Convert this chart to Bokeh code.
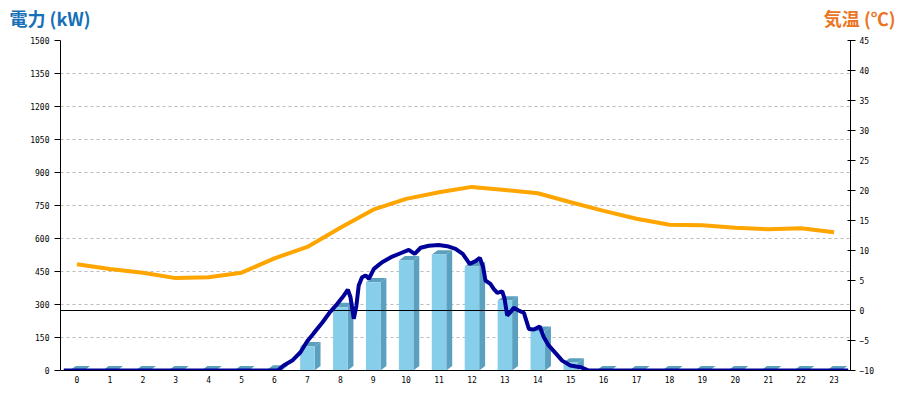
from bokeh.plotting import figure
from bokeh.layouts import column
from bokeh.models import Range1d, LinearAxis, FixedTicker, Label
from bokeh.embed import file_html
from bokeh.resources import INLINE

# ---- data ----
hours = list(range(24))
hour_labels = [str(h) for h in hours]
bar_kw = [0, 0, 0, 0, 0, 0, 4, 109, 288, 401, 500, 527, 473, 318, 180, 36,
          0, 0, 0, 0, 0, 0, 0, 0]
temp_c = [7.7, 6.9, 6.3, 5.4, 5.55, 6.3, 8.7, 10.6, 13.8, 16.8, 18.6, 19.7,
          20.6, 20.1, 19.55, 18.05, 16.6, 15.3, 14.3, 14.2, 13.8, 13.55, 13.7, 13.05]
line_t = [-0.4, 6.10, 6.28, 6.54, 6.79, 6.99, 7.20, 7.45, 7.70, 7.91, 8.11, 8.23,
          8.31, 8.41, 8.49, 8.56, 8.66, 8.77, 8.87, 9.02, 9.17, 9.27, 9.58, 9.83,
          10.08, 10.26, 10.44, 10.69, 10.99, 11.25, 11.50, 11.72, 11.93, 12.11,
          12.24, 12.34, 12.41, 12.56, 12.66, 12.77, 12.92, 12.99, 13.07, 13.17,
          13.27, 13.42, 13.58, 13.73, 13.88, 14.06, 14.18, 14.33, 14.54, 14.74,
          14.99, 15.30, 15.55, 23.43]
line_kw = [0, 0, 23, 45, 83, 132, 171, 217, 268, 303, 341, 368,
           333, 235, 295, 386, 424, 432, 417, 462, 480, 492, 518, 533,
           548, 530, 558, 567, 570, 565, 553, 530, 485, 497,
           512, 470, 409, 394, 371, 353, 360, 326, 250, 265,
           285, 273, 261, 189, 186, 200, 152, 114, 79, 45,
           23, 15, 0, 0]
kw_ticks = [0, 150, 300, 450, 600, 750, 900, 1050, 1200, 1350, 1500]
temp_ticks = [-10, -5, 0, 5, 10, 15, 20, 25, 30, 35, 40, 45]
title_left = "電力 (kW)"
title_right = "気温 (℃)"

# ---- style ----
FRONT = "#87CEEB"
SIDE = "#5BA0BF"
NAVY = "#000099"
ORANGE = "#FFA500"
BLUE_T = "#1570B8"
ORANGE_T = "#EC7524"
half_w = 0.22
depth_x = 0.18
depth_y = 20
W = 898
HEAD_H = 34

# ---- header with the two titles ----
head = figure(width=W, height=HEAD_H, x_range=Range1d(0, W), y_range=Range1d(HEAD_H, 0),
              x_axis_location=None, y_axis_location=None,
              min_border=0, min_border_left=0, min_border_right=0,
              min_border_top=0, min_border_bottom=0,
              output_backend="svg", toolbar_location=None)
head.grid.visible = False
head.outline_line_color = None
head.add_layout(Label(x=9, y=4, text=title_left, text_font="Noto Sans CJK JP",
                      text_font_style="bold", text_font_size="18px",
                      text_color=BLUE_T, text_baseline="top"))
head.add_layout(Label(x=895, y=4, text=title_right, text_font="Noto Sans CJK JP",
                      text_font_style="bold", text_font_size="18px",
                      text_color=ORANGE_T, text_baseline="top", text_align="right"))

# ---- main chart ----
p = figure(frame_width=790, frame_height=330,
           min_border_left=60, min_border_right=W - 60 - 790,
           min_border_top=40 - HEAD_H, min_border_bottom=28,
           x_range=Range1d(-0.5, 23.5), y_range=Range1d(0, 1500),
           output_backend="svg", toolbar_location=None)
for fig in (head, p):
    if "frame_align" in fig.properties():
        fig.frame_align = False
p.extra_y_ranges = {"temp": Range1d(-10, 45)}
p.outline_line_color = None

p.xgrid.visible = False
p.ygrid.grid_line_color = "#BBBBBB"
p.ygrid.grid_line_dash = "3 3"
p.ygrid.ticker = FixedTicker(ticks=kw_ticks)

tick_font = "DejaVu Sans Mono"

ax = p.xaxis[0]
ax.ticker = FixedTicker(ticks=hours)
ax.major_label_overrides = {h: s for h, s in zip(hours, hour_labels)}
ax.major_tick_out = 0
ax.major_tick_in = 0
ax.minor_tick_out = 0
ax.minor_tick_in = 0
ax.axis_line_color = "black"
ax.major_label_text_font = tick_font
ax.major_label_text_font_size = "8px"
ax.major_label_text_color = "black"
ax.major_label_standoff = 5

ay = p.yaxis[0]
ay.ticker = FixedTicker(ticks=kw_ticks)
ay.major_tick_out = 6
ay.major_tick_in = 0
ay.minor_tick_out = 0
ay.minor_tick_in = 0
ay.axis_line_color = "black"
ay.major_label_text_font = tick_font
ay.major_label_text_font_size = "8px"
ay.major_label_text_color = "black"
ay.major_label_standoff = 5

ry = LinearAxis(y_range_name="temp", ticker=FixedTicker(ticks=temp_ticks))
ry.major_tick_out = 5
ry.major_tick_in = 3
ry.minor_tick_out = 0
ry.minor_tick_in = 0
ry.axis_line_color = "black"
ry.major_label_text_font = tick_font
ry.major_label_text_font_size = "8px"
ry.major_label_text_color = "black"
ry.major_label_standoff = 4
p.add_layout(ry, "right")

# ---- 3D bars ----
side_xs = [[h + half_w, h + half_w, h + half_w + depth_x, h + half_w + depth_x] for h in hours]
side_ys = [[0, v, v + depth_y, depth_y] for v in bar_kw]
top_xs = [[h - half_w, h + half_w, h + half_w + depth_x, h - half_w + depth_x] for h in hours]
top_ys = [[v, v, v + depth_y, v + depth_y] for v in bar_kw]
p.patches(side_xs, side_ys, fill_color=SIDE, line_color=None)
p.patches(top_xs, top_ys, fill_color=SIDE, line_color=None)
p.vbar(x=hours, top=bar_kw, bottom=0, width=2 * half_w, fill_color=FRONT, line_color=None)

# zero line of the temperature axis
p.hspan(y=[0], y_range_name="temp", line_color="black", line_width=1)

# lines
p.line(line_t, line_kw, line_color=NAVY, line_width=4)
p.line(hours, temp_c, line_color=ORANGE, line_width=4, y_range_name="temp")

layout = column(head, p, spacing=0)
open("out.html", "w").write(file_html(layout, INLINE))
